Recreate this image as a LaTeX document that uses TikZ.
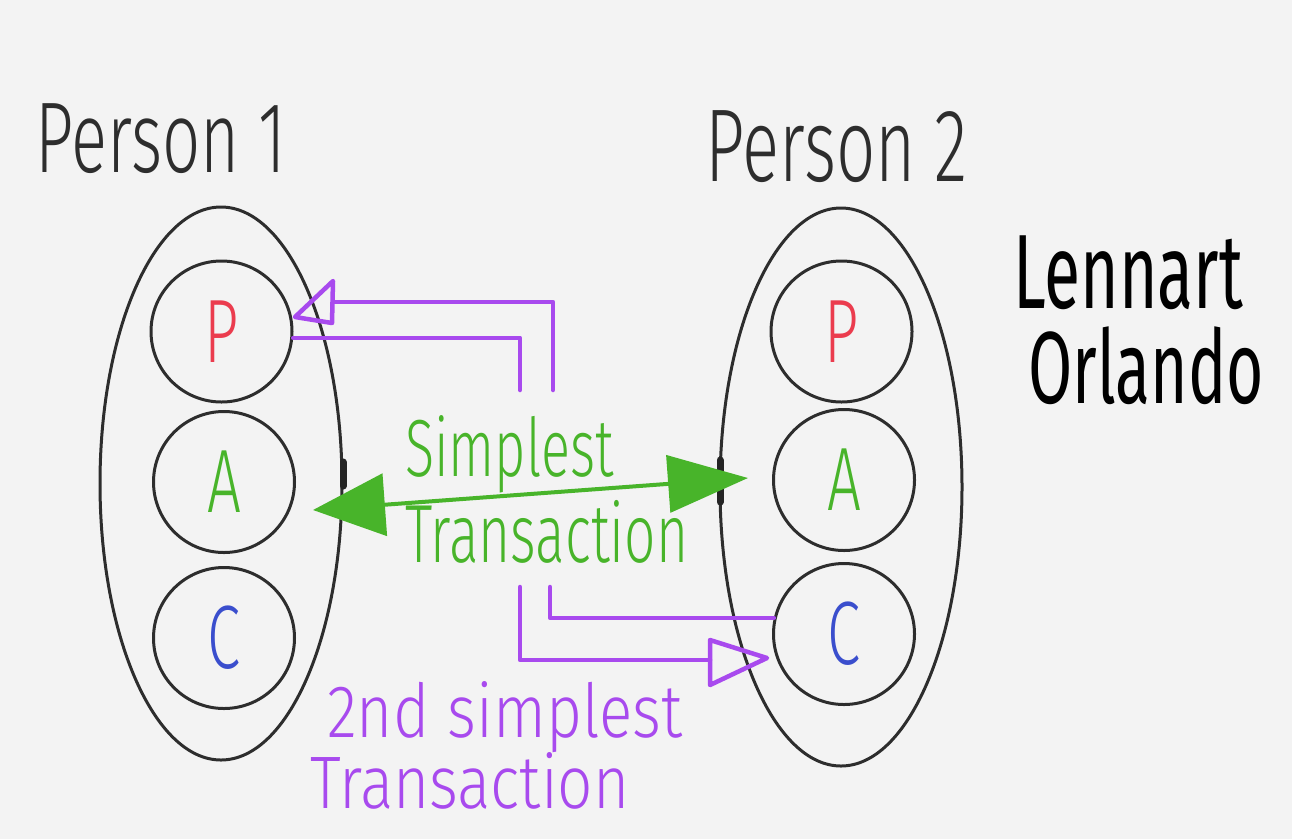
\documentclass[tikz,border=0pt]{standalone}
\usepackage{fontspec}
\usepackage{graphicx}
\setmainfont{Fira Sans Light}
\newfontfamily\thickhand{Fira Sans}
\usetikzlibrary{shapes.geometric,arrows.meta}
\definecolor{paper}{RGB}{243,243,243}
\definecolor{ink}{RGB}{45,45,45}
\definecolor{pred}{RGB}{235,60,78}
\definecolor{agreen}{RGB}{72,180,42}
\definecolor{cblue}{RGB}{58,78,205}
\definecolor{purp}{RGB}{168,74,238}
\tikzset{
  outerell/.style={draw=ink, line width=3pt, ellipse, inner sep=0pt, minimum width=242pt},
  role/.style={draw=ink, line width=3pt, circle, inner sep=0pt, minimum size=141pt},
  lbl/.style={inner sep=0pt, anchor=base west},
  purpline/.style={draw=purp, line width=4.5pt, line join=round, line cap=round},
  greenline/.style={draw=agreen, line width=4pt, line cap=round},
  edgemark/.style={draw=ink!80!black, line width=7pt, line cap=round}
}
\begin{document}
\begin{tikzpicture}[x=1pt,y=-1pt]
\fill[paper] (0,0) rectangle (1292,839);
\useasboundingbox (0,0) rectangle (1292,839);

% person labels
\node[lbl, text=ink] (t1) at (35,172) {\scalebox{1}[1.5]{\fontsize{67}{67}\selectfont Person 1}};
\node[lbl, text=ink] (t2) at (705,181) {\scalebox{1}[1.5]{\fontsize{69}{69}\selectfont Person 2}};
\node[lbl, text=black] (n1) at (1013,308) {\scalebox{1}[1.6]{\thickhand\fontsize{66}{66}\selectfont Lennart}};
\node[lbl, text=black] (n2) at (1028,403) {\scalebox{1}[1.6]{\thickhand\fontsize{64}{64}\selectfont Orlando}};

% ellipses
\node[outerell, minimum height=553pt] (e1) at (221,483.5) {};
\node[outerell, minimum height=558pt] (e2) at (841,487) {};

% roles
\node[role] (p1) at (221.5,331.5) {\textcolor{pred}{\scalebox{1}[1.5]{\fontsize{60}{60}\selectfont P}}};
\node[role] (a1) at (224,482) {\textcolor{agreen}{\scalebox{1}[1.5]{\fontsize{60}{60}\selectfont A}}};
\node[role] (c1) at (224,638) {\textcolor{cblue}{\scalebox{1}[1.5]{\fontsize{60}{60}\selectfont C}}};
\node[role] (p2) at (841.5,331.5) {\textcolor{pred}{\scalebox{1}[1.5]{\fontsize{60}{60}\selectfont P}}};
\node[role] (a2) at (844,480) {\textcolor{agreen}{\scalebox{1}[1.5]{\fontsize{60}{60}\selectfont A}}};
\node[role] (c2) at (844,634) {\textcolor{cblue}{\scalebox{1}[1.5]{\fontsize{60}{60}\selectfont C}}};

% marks on ellipse edges
\draw[edgemark] (343,462) -- (343,486);
\draw[edgemark] (720,460) -- (720,502);

% green simplest transaction
\coordinate (gl) at (313,510);
\coordinate (gr) at (748,478);
\draw[greenline, {Triangle[length=72pt,width=62pt]}-{Triangle[length=80pt,width=57pt]}] (gl) -- (gr);
\node[lbl, text=agreen] (g1) at (405,476) {\scalebox{1}[1.5]{\fontsize{54}{54}\selectfont Simplest}};
\node[lbl, text=agreen] (g2) at (405,562) {\scalebox{1}[1.5]{\fontsize{55}{55}\selectfont Transaction}};

% purple upper arrow (towards P of person 1)
\coordinate (u1) at (553,390);
\coordinate (u2) at (520,390);
\draw[purpline] (u1) |- (333,302);
\draw[purpline] (333,281) -- (295,317) -- (332,323) -- cycle;
\draw[purpline] (u2) |- (p1.-5);

% purple lower arrow (towards C of person 2)
\coordinate (d1) at (550,587);
\coordinate (d2) at (520,587);
\draw[purpline] (d1) |- (c2.167);
\draw[purpline] (d2) |- (710,660);
\draw[purpline] (710,640) -- (767,658) -- (710,685) -- cycle;

\node[lbl, text=purp] (s1) at (327,737) {\scalebox{1}[1.2]{\fontsize{62}{62}\selectfont 2nd\hspace{0.3em}simplest}};
\node[lbl, text=purp] (s2) at (310,808) {\scalebox{1}[1.2]{\fontsize{62}{62}\selectfont Transaction}};
\end{tikzpicture}
\end{document}
